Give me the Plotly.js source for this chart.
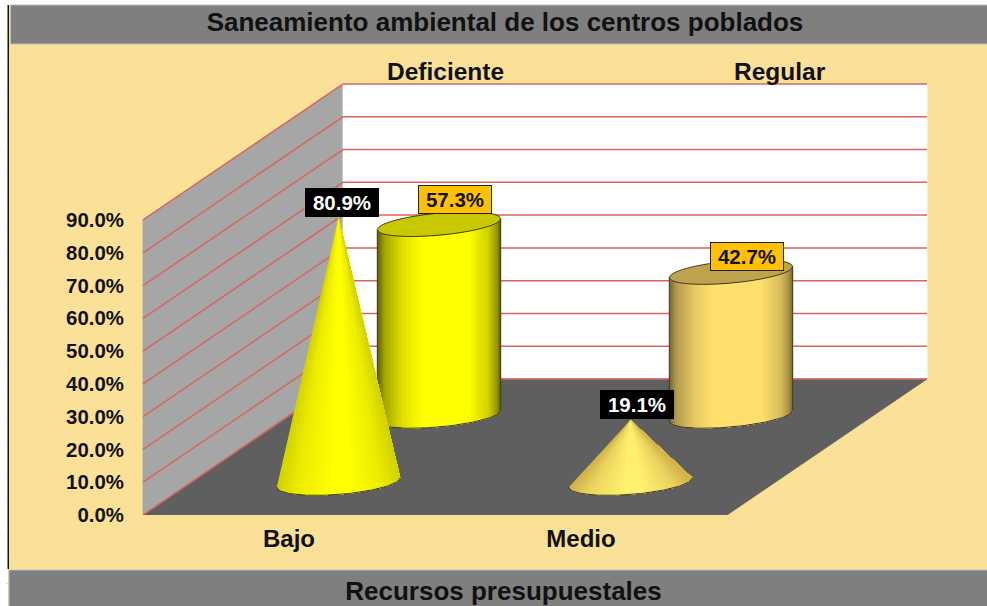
<!DOCTYPE html>
<html>
<head>
<meta charset="utf-8">
<script src="https://cdn.plot.ly/plotly-3.0.1.min.js"></script>
<style>html,body{margin:0;padding:0;background:#fff}#chart{width:987px;height:606px}</style>
</head>
<body>
<div id="chart"></div>
<script>
// ---- data ----
var categories = ["Bajo", "Medio"];
var seriesNames = ["Deficiente", "Regular"];
var deficienteValues = [80.9, 57.3];
var regularValues = [19.1, 42.7];
var yTicks = [0, 10, 20, 30, 40, 50, 60, 70, 80, 90];
var chartTitle = "Saneamiento ambiental de los centros poblados";
var axisTitle = "Recursos presupuestales";

// ---- geometry of the oblique projection ----
var W = 987, H = 606, mL = 20, mB = 91;
var x0px = 143, y0px = 515, catPx = 292, unitPx = 3.278;
var depthX = 200 / catPx, depthY = 136 / unitPx;
var plotW = W - mL, plotH = H - mB;
var FONT = '"Liberation Sans", Arial, sans-serif';

function px2x(dp) { return dp / catPx; }
function px2y(dp) { return dp / unitPx; }

var traces = [];
function poly(xs, ys, fill, line, lw) {
  traces.push({
    type: "scatter", mode: "lines", x: xs, y: ys, fill: "toself", fillcolor: fill,
    line: { color: line || fill, width: lw === undefined ? 0.8 : lw, simplify: false },
    hoverinfo: "skip", showlegend: false, cliponaxis: false
  });
}
function polyline(xs, ys, color, lw) {
  traces.push({
    type: "scatter", mode: "lines", x: xs, y: ys,
    line: { color: color, width: lw }, hoverinfo: "skip", showlegend: false, cliponaxis: false
  });
}

// walls and floor
var nCat = categories.length, topTick = yTicks[yTicks.length - 1];
poly([0, depthX, depthX, 0, 0], [0, depthY, topTick + depthY, topTick, 0], "#A6A6A6");
poly([depthX, nCat + depthX, nCat + depthX, depthX, depthX],
     [depthY, depthY, topTick + depthY, topTick + depthY, depthY], "#FFFFFF");
poly([0, nCat, nCat + depthX, depthX, 0], [0, 0, depthY, depthY, 0], "#5F5F5F");

// gridlines
yTicks.forEach(function (t) {
  polyline([0, depthX, nCat + depthX], [t, t + depthY, t + depthY], "#D9665E", 1.5);
});

// shading
function lerp(a, b, t) { return a + (b - a) * t; }
function mix(c0, c1, t) {
  return "rgb(" + [0, 1, 2].map(function (i) { return Math.round(lerp(c0[i], c1[i], t)); }).join(",") + ")";
}
function profile(stops, u) {
  for (var i = 1; i < stops.length; i++) {
    if (u <= stops[i][0]) {
      return lerp(stops[i - 1][1], stops[i][1], (u - stops[i - 1][0]) / (stops[i][0] - stops[i - 1][0]));
    }
  }
  return stops[stops.length - 1][1];
}
var cylStops = [[0, 0], [0.06, 0.45], [0.2, 0.8], [0.36, 1], [0.74, 1], [0.9, 0.72], [0.97, 0.35], [1, 0]];
var coneStops = [[0, 0.1], [0.15, 0.6], [0.45, 1], [0.6, 1], [0.85, 0.6], [1, 0.1]];
var N = 62, A = 61.7;

function ellipseY(cyVal, u, b, s, lower) {
  // u in 0..1 across the width; shear makes the ellipse tilt up to the right
  var c = 2 * u - 1, r = Math.sqrt(Math.max(0, 1 - c * c));
  return cyVal + px2y((lower ? -1 : 1) * b * r + s * c);
}

function cylinder(cat, value, dark, light, topColor) {
  var cx = cat + px2x(150), base = px2y(99), lift = px2y(4);
  var t = base + lift + value, b = 11, s = 5.5;
  var i, j, u0;
  // painted left to right, each band running to the right edge, so no seams show
  for (i = 0; i < N; i++) {
    var xs = [], ys = [];
    for (j = i; j <= N; j++) { u0 = j / N; xs.push(cx + px2x(A * (2 * u0 - 1))); ys.push(ellipseY(base, u0, b, s, true)); }
    for (j = N; j >= i; j--) { u0 = j / N; xs.push(cx + px2x(A * (2 * u0 - 1))); ys.push(ellipseY(t, u0, b, s, true)); }
    poly(xs, ys, mix(dark, light, profile(cylStops, (i + 0.5) / N)), null, 0);
  }
  // top ellipse + outlines
  var tx = [], ty = [], fx = [], fy = [];
  for (i = 0; i <= N; i++) { u0 = i / N; tx.push(cx + px2x(A * (2 * u0 - 1))); ty.push(ellipseY(t, u0, b, s, true)); }
  for (i = N; i >= 0; i--) { u0 = i / N; tx.push(cx + px2x(A * (2 * u0 - 1))); ty.push(ellipseY(t, u0, b, s, false)); }
  poly(tx, ty, topColor, "#3a3a20", 1);
  for (i = 0; i <= N; i++) { u0 = i / N; fx.push(cx + px2x(A * (2 * u0 - 1))); fy.push(ellipseY(base, u0, b, s, true)); }
  polyline(fx, fy, "#3a3a20", 1);
  polyline([cx - px2x(A), cx - px2x(A)], [base + px2y(-s), t + px2y(-s)], "#3a3a20", 1);
  polyline([cx + px2x(A), cx + px2x(A)], [base + px2y(s), t + px2y(s)], "#3a3a20", 1);
}

function cone(cat, value, dark, light) {
  var cx = cat + px2x(49.5), base = px2y(32.5), apex = base + value, b = 12, s = 4.7;
  var i, j, u0;
  for (i = 0; i < N; i++) {
    var xs = [cx], ys = [apex];
    for (j = N; j >= i; j--) { u0 = j / N; xs.push(cx + px2x(A * (2 * u0 - 1))); ys.push(ellipseY(base, u0, b, s, true)); }
    xs.push(cx); ys.push(apex);
    poly(xs, ys, mix(dark, light, profile(coneStops, (i + 0.5) / N)), null, 0);
  }
  var fx = [], fy = [];
  for (i = 0; i <= N; i++) { u0 = i / N; fx.push(cx + px2x(A * (2 * u0 - 1))); fy.push(ellipseY(base, u0, b, s, true)); }
  polyline(fx, fy, "#3a3a20", 1);
}

// back row (cylinders), then front row (cones)
var catCentre = categories.map(function (_, i) { return i + 0.5; });
cylinder(catCentre[0] , deficienteValues[1], [92, 92, 0], [255, 255, 0], "#C8C800");
cylinder(catCentre[1], regularValues[1], [120, 100, 50], [255, 224, 110], "#BFA24E");
cone(catCentre[0], deficienteValues[0], [205, 205, 0], [255, 255, 0]);
cone(catCentre[1], regularValues[0], [205, 170, 70], [255, 240, 110]);

// ---- labels ----
function valueLabel(x, y, text, dark, xs, ys) {
  return {
    xref: "x", yref: "y", x: x, y: y, text: "<b>" + text + "</b>", showarrow: false,
    xanchor: "center", yanchor: "bottom", xshift: xs, yshift: ys,
    font: { family: FONT, size: 20.5, color: dark ? "#FFFFFF" : "#111111" },
    bgcolor: dark ? "#000000" : "#FFC000",
    bordercolor: dark ? "#000000" : "#222222", borderwidth: 1, borderpad: 2, width: 68, height: 23
  };
}
var fmt = function (v) { return v.toFixed(1) + "%"; };
var annotations = [
  valueLabel(catCentre[0] + px2x(49.5), px2y(32.5) + deficienteValues[0], fmt(deficienteValues[0]), true, 3, 0),
  valueLabel(catCentre[0] + px2x(150), px2y(103) + deficienteValues[1], fmt(deficienteValues[1]), false, 16, 10),
  valueLabel(catCentre[1] + px2x(49.5), px2y(32.5) + regularValues[0], fmt(regularValues[0]), true, 6, 1),
  valueLabel(catCentre[1] + px2x(150), px2y(103) + regularValues[1], fmt(regularValues[1]), false, 16, 1)
];
// series names along the depth row
[[445], [780]].forEach(function (p, i) {
  annotations.push({
    xref: "x", yref: "y", x: (p[0] - x0px) / catPx, y: (y0px - 71) / unitPx, showarrow: false,
    text: "<b>" + seriesNames[i] + "</b>", xanchor: "center", yanchor: "middle",
    font: { family: FONT, size: 24.5, color: "#111111" }
  });
});

// ---- chrome ----
function fx(px) { return (px - mL) / plotW; }
function fy(px) { return (plotH - px) / plotH; }
function rect(x0, y0, x1, y1, fill, line) {
  return {
    type: "rect", xref: "paper", yref: "paper", x0: fx(x0), x1: fx(x1), y0: fy(y0), y1: fy(y1),
    fillcolor: fill, line: line ? { color: line, width: 1 } : { width: 0 }, layer: "below"
  };
}
var shapes = [
  rect(0, 0, 8, H, "#FFFFFF"),
  rect(0, 0, W, 5, "#FFFFFF"),
  rect(10.5, 5, W + 2, 44, "#7F7F7F", "#BDBDBD"),
  rect(9, 570, W + 2, H + 2, "#7F7F7F", "#BDBDBD"),
  rect(7.5, 5, 9, 569, "#111111")
];
for (var k = 0; k < 21; k++) {
  shapes.push(rect(6, 35 + k * 27.4, 7.5, 36 + k * 27.4, "#C9C9C9"));
}

var layout = {
  width: W, height: H,
  margin: { l: mL, r: 0, t: 0, b: mB, pad: 0 },
  paper_bgcolor: "#FBE197",
  plot_bgcolor: "rgba(0,0,0,0)",
  showlegend: false,
  title: {
    text: "<b>" + chartTitle + "</b>", xref: "container", yref: "container",
    x: 505 / W, y: 1 - 22 / H, xanchor: "center", yanchor: "middle",
    font: { family: FONT, size: 26, color: "#111111" }
  },
  xaxis: {
    range: [-(x0px - mL) / catPx, (W - x0px) / catPx],
    tickmode: "array", tickvals: catCentre, ticktext: categories.map(function (c) { return "<b>" + c + "</b>"; }),
    ticks: "outside", ticklen: 2, tickcolor: "rgba(0,0,0,0)",
    tickfont: { family: FONT, size: 24, color: "#111111" },
    showgrid: false, zeroline: false, showline: false, fixedrange: true,
    title: { text: "<b>" + axisTitle + "</b>", standoff: 31, font: { family: FONT, size: 26, color: "#111111" } }
  },
  yaxis: {
    range: [0, plotH / unitPx],
    anchor: "free", position: (x0px - mL) / plotW,
    tickmode: "array", tickvals: yTicks, ticktext: yTicks.map(function (t) { return "<b>" + t.toFixed(1) + "%</b>"; }),
    ticks: "outside", ticklen: 15, tickcolor: "rgba(0,0,0,0)",
    tickfont: { family: FONT, size: 20.4, color: "#111111" },
    showgrid: false, zeroline: false, showline: false, fixedrange: true
  },
  shapes: shapes,
  annotations: annotations
};
Plotly.newPlot("chart", traces, layout, { displayModeBar: false, staticPlot: true });
</script>
</body>
</html>
